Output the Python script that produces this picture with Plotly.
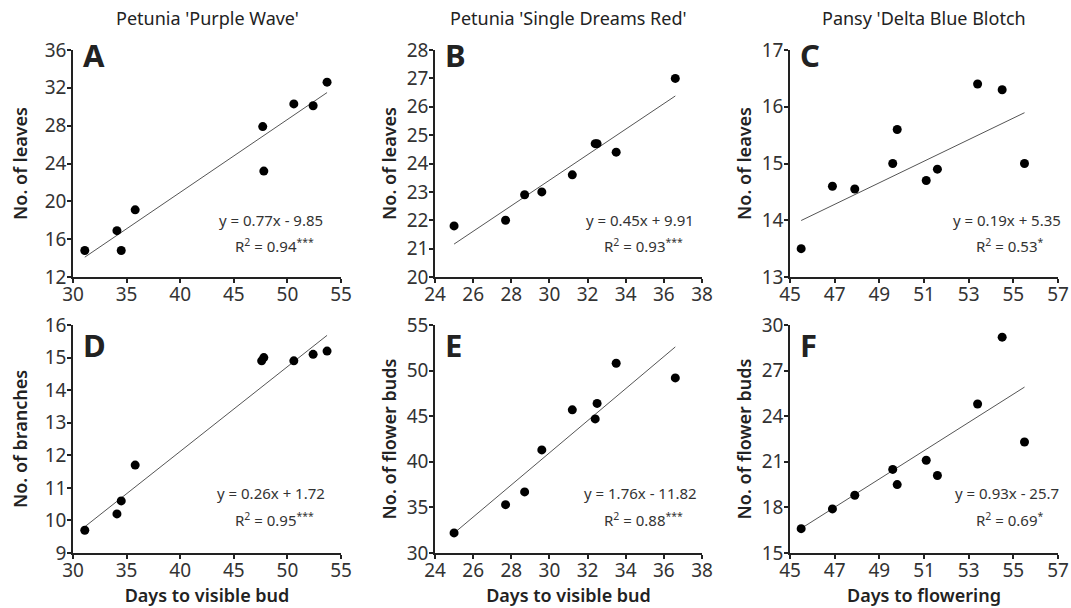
import plotly.graph_objects as go

W, H = 1071, 608

# panel data
a_days = [31.1, 34.1, 34.5, 35.8, 47.7, 47.8, 50.6, 52.4, 53.7]
a_leaves = [14.8, 16.9, 14.8, 19.1, 27.9, 23.2, 30.3, 30.1, 32.6]

b_days = [25.0, 27.7, 28.7, 29.6, 31.2, 32.4, 32.5, 33.5, 36.6]
b_leaves = [21.8, 22.0, 22.9, 23.0, 23.6, 24.7, 24.7, 24.4, 27.0]

c_days = [45.5, 46.9, 47.9, 49.6, 49.8, 51.1, 51.6, 53.4, 54.5, 55.5]
c_leaves = [13.5, 14.6, 14.55, 15.0, 15.6, 14.7, 14.9, 16.4, 16.3, 15.0]

d_days = [31.1, 34.1, 34.5, 35.8, 47.6, 47.8, 50.6, 52.4, 53.7]
d_branches = [9.7, 10.2, 10.6, 11.7, 14.9, 15.0, 14.9, 15.1, 15.2]

e_days = [25.0, 27.7, 28.7, 29.6, 31.2, 32.4, 32.5, 33.5, 36.6]
e_buds = [32.2, 35.3, 36.7, 41.3, 45.7, 44.7, 46.4, 50.8, 49.2]

f_days = [45.5, 46.9, 47.9, 49.6, 49.8, 51.1, 51.6, 53.4, 54.5, 55.5]
f_buds = [16.6, 17.9, 18.8, 20.5, 19.5, 21.1, 20.1, 24.8, 29.2, 22.3]

slopes = [0.77, 0.45, 0.19, 0.26, 1.76, 0.93]
intercepts = [-9.85, 9.91, 5.35, 1.72, -11.82, -25.7]
equations = ["y = 0.77x - 9.85", "y = 0.45x + 9.91", "y = 0.19x + 5.35",
             "y = 0.26x + 1.72", "y = 1.76x - 11.82", "y = 0.93x - 25.7"]
r2_values = ["0.94", "0.93", "0.53", "0.95", "0.88", "0.69"]
r2_stars = ["***", "***", "*", "***", "***", "*"]
letters = ["A", "B", "C", "D", "E", "F"]

col_titles = ["Petunia 'Purple Wave'", "Petunia 'Single Dreams Red'", "Pansy 'Delta Blue Blotch"]
y_titles = ["No. of leaves", "No. of leaves", "No. of leaves",
            "No. of branches", "No. of flower buds", "No. of flower buds"]
x_titles = ["", "", "", "Days to visible bud", "Days to visible bud", "Days to flowering"]

x_ranges = [[30, 55], [24, 38], [45, 57], [30, 55], [24, 38], [45, 57]]
x_dticks = [5, 2, 2, 5, 2, 2]
y_ranges = [[12, 36], [20, 28], [13, 17], [9, 16], [30, 55], [15, 30]]
y_dticks = [4, 1, 1, 1, 5, 3]

xs = [a_days, b_days, c_days, d_days, e_days, f_days]
ys = [a_leaves, b_leaves, c_leaves, d_branches, e_buds, f_buds]

# pixel layout of the panels
cols = [(73, 341), (435, 702), (790, 1058)]
rows = [(50, 277), (325, 553)]
y_standoff = [12, 5, 5]
FONT = "Noto Sans"


def fx(p):
	return p / W


def fy(p):
	return 1 - p / H


fig = go.Figure()
layout = dict(
	width=W, height=H, margin=dict(l=0, r=0, t=0, b=0),
	paper_bgcolor="white", plot_bgcolor="white", showlegend=False,
	font=dict(family=FONT, color="#222"),
)
annotations = []

for i in range(6):
	r, c = divmod(i, 3)
	n = "" if i == 0 else str(i + 1)
	x0, x1 = cols[c]
	y0, y1 = rows[r]
	axis_common = dict(
		showline=True, linecolor="#222", linewidth=1.5, ticks="outside", ticklen=4,
		tickcolor="#222", tickwidth=1.5, showgrid=False, zeroline=False, automargin=False,
		tickfont=dict(size=19, color="#333"), ticklabeloverflow="allow",
	)
	layout["xaxis" + n] = dict(
		axis_common, domain=[fx(x0), fx(x1)], anchor="y" + n,
		range=x_ranges[i], dtick=x_dticks[i], tick0=x_ranges[i][0], ticklabelstandoff=-5,
		title=dict(text=x_titles[i], font=dict(size=18, color="#222", weight=600), standoff=5),
	)
	layout["yaxis" + n] = dict(
		axis_common, domain=[fy(y1), fy(y0)], anchor="x" + n,
		range=y_ranges[i], dtick=y_dticks[i], tick0=y_ranges[i][0], ticklabelstandoff=-3,
		title=dict(text=y_titles[i], font=dict(size=18, color="#222", weight=600),
		           standoff=y_standoff[c]),
	)

	# regression line from the equation over the data span
	lx = [min(xs[i]), max(xs[i])]
	ly = [slopes[i] * v + intercepts[i] for v in lx]
	fig.add_trace(go.Scatter(x=lx, y=ly, mode="lines", line=dict(color="#555", width=1),
	                         xaxis="x" + n, yaxis="y" + n, hoverinfo="skip"))
	fig.add_trace(go.Scatter(x=xs[i], y=ys[i], mode="markers",
	                         marker=dict(color="black", size=9), cliponaxis=False,
	                         xaxis="x" + n, yaxis="y" + n))

	# panel letter
	letter_y = 55 if r == 0 else 345
	annotations.append(dict(
		text="<b>" + letters[i] + "</b>", x=fx(x0 + 8), y=fy(letter_y), xref="paper", yref="paper",
		xanchor="left", yanchor="middle", showarrow=False, font=dict(size=31, color="#222"),
	))
	# equation and R²
	eq_cx = {0: 271, 1: 640, 2: 1007}[c]
	eq_y = 220 if r == 0 else 493
	annotations.append(dict(
		text=equations[i], x=fx(eq_cx), y=fy(eq_y), xref="paper", yref="paper",
		xanchor="center", yanchor="middle", showarrow=False, font=dict(size=15, color="#333"),
	))
	annotations.append(dict(
		text="R<sup>2</sup> = " + r2_values[i] + "<sup>" + r2_stars[i] + "</sup>",
		x=fx(eq_cx + 3), y=fy(eq_y + 26), xref="paper", yref="paper",
		xanchor="center", yanchor="middle", showarrow=False, font=dict(size=15, color="#333"),
	))

for c in range(3):
	x0, x1 = cols[c]
	annotations.append(dict(
		text=col_titles[c], x=fx((x0 + x1) / 2), y=fy(18), xref="paper", yref="paper",
		xanchor="center", yanchor="middle", showarrow=False, font=dict(size=18, color="#222"),
	))

layout["annotations"] = annotations
fig.update_layout(**layout)
# drop the default page margin so the figure fills the window exactly
fig.write_html("out.html", config={"displayModeBar": False},
               post_script="document.body.style.margin = '0';")
